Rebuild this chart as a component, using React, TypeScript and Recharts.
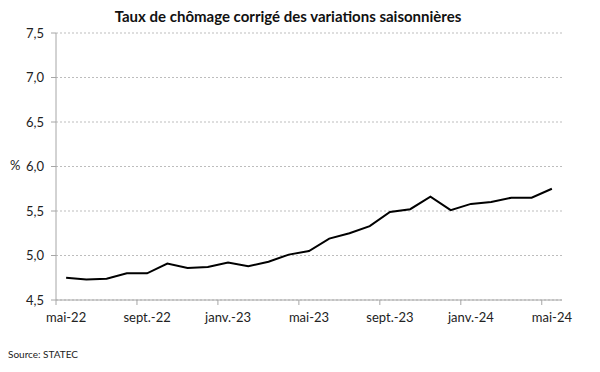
import { LineChart, Line, XAxis, YAxis, CartesianGrid } from "recharts";

const months = [
  "mai-22", "juin-22", "juil.-22", "août-22", "sept.-22", "oct.-22", "nov.-22", "déc.-22",
  "janv.-23", "févr.-23", "mars-23", "avr.-23", "mai-23", "juin-23", "juil.-23", "août-23",
  "sept.-23", "oct.-23", "nov.-23", "déc.-23", "janv.-24", "févr.-24", "mars-24", "avr.-24",
  "mai-24",
];

const rate = [
  4.75, 4.73, 4.74, 4.8, 4.8, 4.91, 4.86, 4.87, 4.92, 4.88, 4.93, 5.01, 5.05,
  5.19, 5.25, 5.33, 5.49, 5.52, 5.66, 5.51, 5.58, 5.6, 5.65, 5.65, 5.75,
];

const yTicks = [4.5, 5, 5.5, 6, 6.5, 7, 7.5];
// tick marks sit between months, every 4 months
const xTicks = [-0.5, 3.5, 7.5, 11.5, 15.5, 19.5, 23.5];

const data = months.map((m, i) => ({ i, month: m, rate: rate[i] }));

const W = 600;
const H = 372;
const LEFT = 56;
const RIGHT = 38;
const STEP = (W - LEFT - RIGHT) / months.length;
const FONT = "Lato, 'Open Sans', sans-serif";

const XTick = (props: any) => {
  const { x, y, payload } = props;
  const label = months[payload.value + 0.5];
  return (
    <text
      x={x + STEP / 2}
      y={y}
      dy="0.71em"
      textAnchor="middle"
      fontSize={13}
      fontFamily={FONT}
      fill="#222"
    >
      {label}
    </text>
  );
};

export default function App() {
  return (
    <div
      style={{
        position: "absolute",
        left: 0,
        top: 0,
        width: W,
        height: H,
        background: "#fff",
        fontFamily: FONT,
      }}
    >
      <div
        style={{
          position: "absolute",
          left: 0,
          width: 576,
          top: 7,
          textAlign: "center",
          fontWeight: 700,
          fontSize: 15,
          color: "#111",
        }}
      >
        Taux de chômage corrigé des variations saisonnières
      </div>
      <div
        style={{
          position: "absolute",
          left: 10,
          top: 157,
          fontSize: 13,
          color: "#222",
        }}
      >
        %
      </div>
      <div
        style={{
          position: "absolute",
          left: 8,
          top: 348,
          fontSize: 10,
          color: "#222",
        }}
      >
        Source: STATEC
      </div>
      <LineChart
        width={W}
        height={H}
        data={data}
        margin={{ top: 33, right: RIGHT, bottom: 42, left: 8 }}
      >
        <CartesianGrid
          vertical={false}
          stroke="#bdbdbd"
          strokeDasharray="2 2"
        />
        <XAxis
          dataKey="i"
          type="number"
          domain={[-0.5, months.length - 0.5]}
          ticks={xTicks}
          interval={0}
          height={30}
          tickSize={5}
          tickMargin={8}
          stroke="#a6a6a6"
          tick={<XTick />}
        />
        <YAxis
          domain={[4.5, 7.5]}
          ticks={yTicks}
          interval={0}
          allowDataOverflow
          width={LEFT - 8}
          tickSize={5}
          tickMargin={7}
          stroke="#a6a6a6"
          tick={{ fill: "#222", fontSize: 13, fontFamily: FONT }}
          tickFormatter={(v: number) => v.toFixed(1).replace(".", ",")}
        />
        <Line
          type="linear"
          dataKey="rate"
          stroke="#000"
          strokeWidth={2}
          dot={false}
          isAnimationActive={false}
        />
      </LineChart>
    </div>
  );
}
